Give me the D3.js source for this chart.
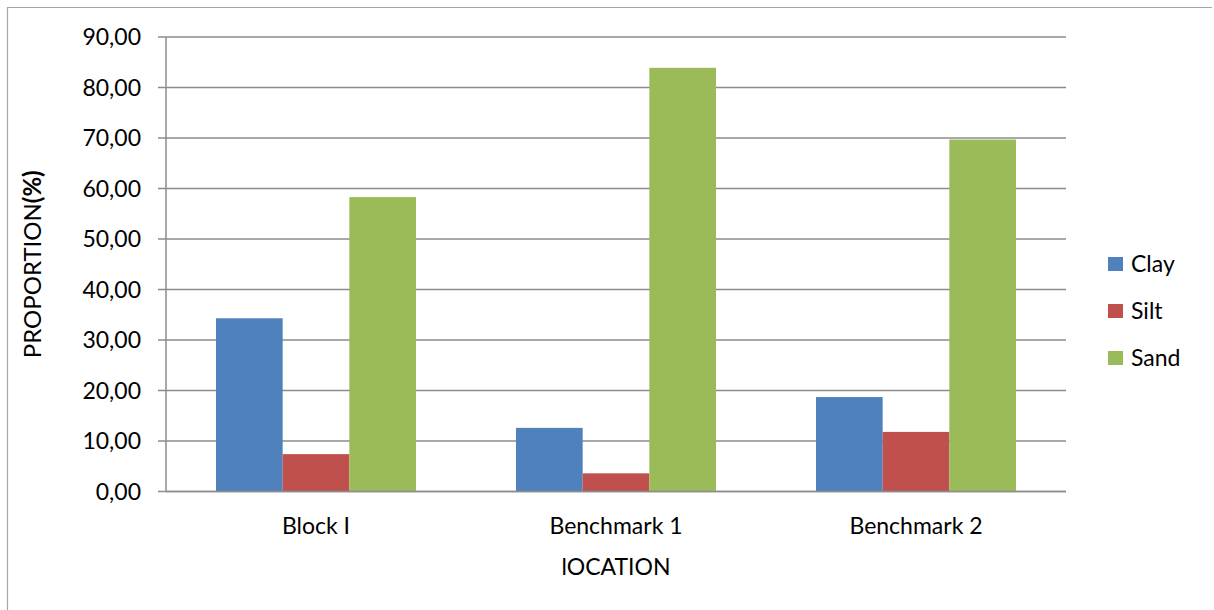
<!DOCTYPE html>
<html>
<head>
<meta charset="utf-8">
<script src="https://cdn.jsdelivr.net/npm/d3@7/dist/d3.min.js"></script>
<style>
  html, body { margin: 0; padding: 0; background: #fff; }
  svg { display: block; }
  text { font-family: Lato, "Open Sans", sans-serif; fill: #000; }
</style>
</head>
<body>
<svg id="chart" width="1214" height="610"></svg>
<script>
// Soil texture proportions by location
const categories = ["Block I", "Benchmark 1", "Benchmark 2"];
const seriesNames = ["Clay", "Silt", "Sand"];
const clay = [34.3, 12.6, 18.7];
const silt = [7.4, 3.6, 11.8];
const sand = [58.3, 83.9, 69.7];
const yTicks = [0, 10, 20, 30, 40, 50, 60, 70, 80, 90];
const colors = ["#4F81BD", "#C0504D", "#9BBB59"];

const values = [clay, silt, sand];
const rows = categories.map((c, i) => ({
  category: c,
  bars: seriesNames.map((s, j) => ({ series: s, value: values[j][i] }))
}));

const svg = d3.select("#chart");
const fontSize = 23;

// outer frame (top and left edges)
svg.append("path")
  .attr("d", "M7.5,610 V7.5 H1212")
  .attr("fill", "none")
  .attr("stroke", "#a6a6a6")
  .attr("stroke-width", 1.2);

const plot = { left: 166, right: 1066, top: 37, bottom: 491.5 };

const x = d3.scaleBand().domain(categories).range([plot.left, plot.right]).padding(0);
const xs = d3.scaleBand().domain(seriesNames).range([0, x.bandwidth()])
  .paddingInner(0).paddingOuter(0.75);
const y = d3.scaleLinear().domain([0, 90]).range([plot.bottom, plot.top]);
const color = d3.scaleOrdinal().domain(seriesNames).range(colors);

// horizontal gridlines
svg.append("g")
  .selectAll("line")
  .data(yTicks)
  .join("line")
  .attr("x1", plot.left - 8)
  .attr("x2", plot.right)
  .attr("y1", d => y(d))
  .attr("y2", d => y(d))
  .attr("stroke", "#8c8c8c")
  .attr("stroke-width", 1.5);

// vertical axis line
svg.append("line")
  .attr("x1", plot.left).attr("x2", plot.left)
  .attr("y1", plot.top).attr("y2", plot.bottom)
  .attr("stroke", "#8c8c8c")
  .attr("stroke-width", 1.5);

// bars
svg.append("g")
  .selectAll("g")
  .data(rows)
  .join("g")
  .attr("transform", d => `translate(${x(d.category)},0)`)
  .selectAll("rect")
  .data(d => d.bars)
  .join("rect")
  .attr("x", d => xs(d.series))
  .attr("width", xs.bandwidth())
  .attr("y", d => y(d.value))
  .attr("height", d => y(0) - y(d.value))
  .attr("fill", d => color(d.series));

// baseline drawn over bars
svg.append("line")
  .attr("x1", plot.left).attr("x2", plot.right)
  .attr("y1", y(0)).attr("y2", y(0))
  .attr("stroke", "#8c8c8c")
  .attr("stroke-width", 1.5);

// y tick labels
const fmt = v => d3.format(".2f")(v).replace(".", ",");
svg.append("g")
  .selectAll("text")
  .data(yTicks)
  .join("text")
  .attr("x", 141)
  .attr("y", d => y(d))
  .attr("dy", "0.36em")
  .attr("text-anchor", "end")
  .attr("font-size", fontSize)
  .text(fmt);

// category labels
svg.append("g")
  .selectAll("text")
  .data(categories)
  .join("text")
  .attr("x", d => x(d) + x.bandwidth() / 2)
  .attr("y", 534)
  .attr("text-anchor", "middle")
  .attr("font-size", fontSize)
  .text(d => d);

// axis titles
svg.append("text")
  .attr("x", (plot.left + plot.right) / 2)
  .attr("y", 575)
  .attr("text-anchor", "middle")
  .attr("font-size", fontSize)
  .text("lOCATION");

const yTitle = svg.append("text")
  .attr("transform", `translate(41,${(plot.top + plot.bottom) / 2}) rotate(-90)`)
  .attr("text-anchor", "middle")
  .attr("font-size", 24);
yTitle.append("tspan").text("PROPORTION");
yTitle.append("tspan").attr("font-weight", "bold").text("(%)");

// legend
const legend = svg.append("g")
  .selectAll("g")
  .data(seriesNames)
  .join("g")
  .attr("transform", (d, i) => `translate(1108,${264 + i * 47})`);
legend.append("rect")
  .attr("x", 0).attr("y", -7)
  .attr("width", 15).attr("height", 14)
  .attr("fill", d => color(d));
legend.append("text")
  .attr("x", 23)
  .attr("y", 0)
  .attr("dy", "0.36em")
  .attr("font-size", fontSize)
  .text(d => d);
</script>
</body>
</html>
